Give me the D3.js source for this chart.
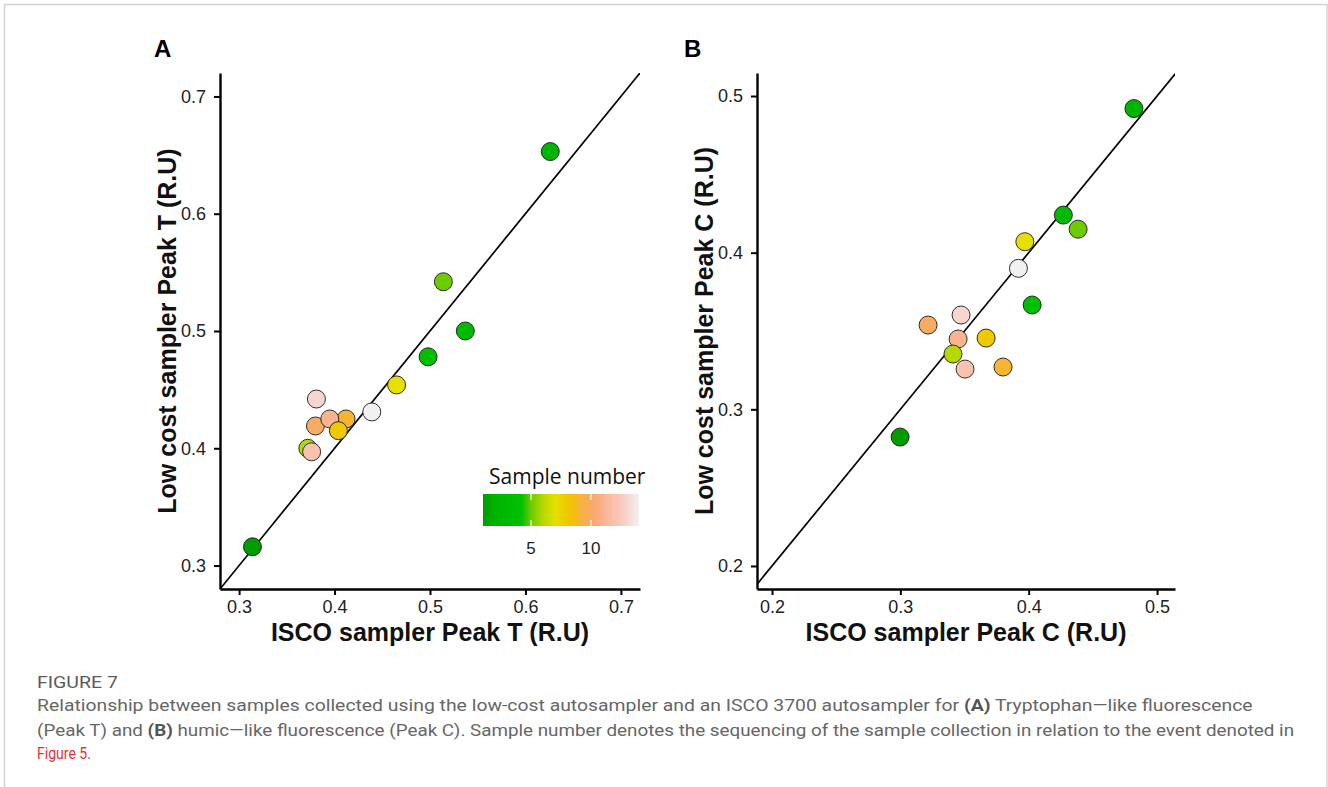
<!DOCTYPE html>
<html><head><meta charset="utf-8">
<script src="https://cdn.jsdelivr.net/npm/d3@7"></script>
<style>html,body{margin:0;padding:0;background:#fff;} svg{display:block;}</style>
</head><body>
<svg id="chart" width="1328" height="787"></svg>
<script>
// ---------- data (draw order) ----------
const sampleA = [1, 2, 3, 4, 5, 6, 7, 9, 10, 11, 12, 13, 14, 8];
const iscoA   = [0.314, 0.626, 0.537, 0.498, 0.514, 0.372, 0.465, 0.412, 0.380, 0.395, 0.376, 0.381, 0.439, 0.404];
const lowA    = [0.316, 0.653, 0.500, 0.478, 0.542, 0.400, 0.454, 0.425, 0.419, 0.425, 0.397, 0.442, 0.431, 0.415];

const sampleB = [1, 2, 3, 4, 5, 7, 8, 9, 10, 11, 6, 12, 13, 14];
const iscoB   = [0.2998, 0.482, 0.427, 0.4027, 0.4385, 0.397, 0.3668, 0.380, 0.3216, 0.345, 0.341, 0.3504, 0.3473, 0.392];
const lowB    = [0.2823, 0.492, 0.424, 0.3666, 0.415, 0.407, 0.3455, 0.327, 0.3538, 0.3449, 0.3353, 0.3257, 0.3602, 0.390];

const ticksA = [0.3, 0.4, 0.5, 0.6, 0.7];
const ticksB = [0.2, 0.3, 0.4, 0.5];
const legendTicks = [5, 10];

// colour scale for sample number
const colorStops = [1, 2, 4.2, 5, 6, 7, 8.3, 9.3, 10.3, 11.3, 12.3, 13.2, 14];
const colorHex = ["#009c00", "#00b400", "#00c000", "#6ccc00", "#b6d800", "#e6e000", "#f2c200",
                  "#f6b045", "#f8a972", "#f9b79a", "#f8c6b8", "#f6dad5", "#f1f1f1"];
const color = d3.scaleLinear().domain(colorStops).range(colorHex).interpolate(d3.interpolateRgb);

const svg = d3.select("#chart");
const FONT = "'Liberation Sans', Arial, sans-serif";

// outer frame
svg.append("rect").attr("x", 4.5).attr("y", 4.5).attr("width", 1322.5).attr("height", 800)
  .attr("fill", "none").attr("stroke", "#d2d2d2").attr("stroke-width", 1.5);

function panel(cfg) {
  const g = svg.append("g");
  const x = d3.scaleLinear(cfg.xDomain, [cfg.left, cfg.right]);
  const y = d3.scaleLinear(cfg.yDomain, [cfg.bottom, cfg.top]);

  // identity line
  const lo = Math.min(cfg.xDomain[0], cfg.yDomain[0]);
  const hi = Math.max(cfg.xDomain[1], cfg.yDomain[1]);
  const clipId = "clip" + cfg.letter;
  svg.append("clipPath").attr("id", clipId).append("rect")
    .attr("x", cfg.left).attr("y", cfg.top).attr("width", cfg.right - cfg.left).attr("height", cfg.bottom - cfg.top);
  g.append("line").attr("clip-path", `url(#${clipId})`)
    .attr("x1", x(lo)).attr("y1", y(lo)).attr("x2", x(hi)).attr("y2", y(hi))
    .attr("stroke", "#000").attr("stroke-width", 1.7);

  // points
  const pts = cfg.samples.map((s, i) => ({s, xv: cfg.xs[i], yv: cfg.ys[i]}));
  g.selectAll("circle.pt").data(pts).join("circle").attr("class", "pt")
    .attr("cx", d => x(d.xv)).attr("cy", d => y(d.yv)).attr("r", 9)
    .attr("fill", d => color(d.s)).attr("stroke", "#1a1a1a").attr("stroke-width", 0.9);

  // axes
  const ax = g.append("g").attr("transform", `translate(0,${cfg.bottom})`)
    .call(d3.axisBottom(x).tickValues(cfg.ticks).tickFormat(d3.format(".1f")).tickSize(6).tickPadding(5).tickSizeOuter(0));
  const ay = g.append("g").attr("transform", `translate(${cfg.left},0)`)
    .call(d3.axisLeft(y).tickValues(cfg.ticks).tickFormat(d3.format(".1f")).tickSize(6).tickPadding(8).tickSizeOuter(0));
  [ax, ay].forEach(a => {
    a.select(".domain").attr("stroke", "#000").attr("stroke-width", 2.4);
    a.selectAll(".tick line").attr("stroke", "#000").attr("stroke-width", 2);
    a.selectAll(".tick text").attr("font-family", FONT).attr("font-size", 18).attr("fill", "#222");
  });

  // axis titles
  g.append("text").attr("x", (cfg.left + cfg.right) / 2).attr("y", 641)
    .attr("text-anchor", "middle").attr("font-family", FONT).attr("font-weight", "bold")
    .attr("font-size", 25).attr("fill", "#111").text(cfg.xTitle);
  g.append("text").attr("transform", `translate(${cfg.yTitleX},${(cfg.top + cfg.bottom) / 2}) rotate(-90)`)
    .attr("text-anchor", "middle").attr("font-family", FONT).attr("font-weight", "bold")
    .attr("font-size", 25).attr("fill", "#111").text(cfg.yTitle);

  // panel letter
  g.append("text").attr("x", cfg.letterX).attr("y", 57).attr("font-family", FONT).attr("font-weight", "bold")
    .attr("font-size", 24).attr("fill", "#000").text(cfg.letter);
}

panel({letter: "A", letterX: 154, left: 220, right: 640, top: 73, bottom: 589,
  xDomain: [0.28, 0.72], yDomain: [0.28, 0.72], ticks: ticksA,
  samples: sampleA, xs: iscoA, ys: lowA, yTitleX: 176,
  xTitle: "ISCO sampler Peak T (R.U)", yTitle: "Low cost sampler Peak T (R.U)"});

panel({letter: "B", letterX: 684, left: 757, right: 1175, top: 73, bottom: 589,
  xDomain: [0.1883, 0.514], yDomain: [0.1853, 0.5147], ticks: ticksB,
  samples: sampleB, xs: iscoB, ys: lowB, yTitleX: 713,
  xTitle: "ISCO sampler Peak C (R.U)", yTitle: "Low cost sampler Peak C (R.U)"});

// ---------- legend ----------
const lx = d3.scaleLinear([1, 14], [483, 639]);
const grad = svg.append("defs").append("linearGradient").attr("id", "legGrad")
  .attr("x1", "0%").attr("x2", "100%").attr("y1", "0%").attr("y2", "0%");
d3.range(1, 14.01, 0.25).forEach(v => {
  grad.append("stop").attr("offset", ((v - 1) / 13 * 100) + "%").attr("stop-color", color(v));
});
const lg = svg.append("g");
lg.append("rect").attr("x", lx(1)).attr("y", 494).attr("width", lx(14) - lx(1)).attr("height", 32)
  .attr("fill", "url(#legGrad)");
legendTicks.forEach(t => {
  lg.append("line").attr("x1", lx(t)).attr("x2", lx(t)).attr("y1", 494).attr("y2", 500)
    .attr("stroke", "#fff").attr("stroke-width", 1.2);
  lg.append("line").attr("x1", lx(t)).attr("x2", lx(t)).attr("y1", 520).attr("y2", 526)
    .attr("stroke", "#fff").attr("stroke-width", 1.2);
  lg.append("text").attr("x", lx(t)).attr("y", 554).attr("text-anchor", "middle")
    .attr("font-family", FONT).attr("font-size", 17).attr("fill", "#222").text(t);
});
lg.append("text").attr("x", 489).attr("y", 484).attr("font-family", "'Open Sans', sans-serif")
  .attr("font-size", 21).attr("fill", "#111").text("Sample number");

// ---------- caption ----------
const CF = "Roboto, 'Noto Sans', sans-serif";
// each line is one text, horizontally condensed with a scale transform so it fits its width
function capLine(yPos, width, size, parts, baseFill) {
  const g = svg.append("g");
  const t = g.append("text").attr("x", 0).attr("y", 0).attr("font-family", CF).attr("font-size", size)
    .attr("fill", baseFill || "#666");
  parts.forEach(p => {
    const ts = t.append("tspan").text(p.t);
    if (p.b) ts.attr("font-weight", "bold").attr("fill", "#555");
    if (p.c) ts.attr("fill", p.c);
  });
  const natural = t.node().getComputedTextLength();
  g.attr("transform", `translate(37,${yPos}) scale(${width / natural},1)`);
}
capLine(688, 81, 16, [{t: "FIGURE 7"}], "#5a5a5a");
capLine(711, 1216, 17, [
  {t: "Relationship between samples collected using the low-cost autosampler and an ISCO 3700 autosampler for "},
  {t: "(A)", b: true}, {t: " Tryptophan\u2014like fluorescence"}]);
capLine(736, 1258, 17, [
  {t: "(Peak T) and "}, {t: "(B)", b: true},
  {t: " humic\u2014like fluorescence (Peak C). Sample number denotes the sequencing of the sample collection in relation to the event denoted in"}]);
capLine(759, 54, 17, [{t: "Figure 5", c: "#e0323c"}, {t: "."}]);
</script>
</body></html>
